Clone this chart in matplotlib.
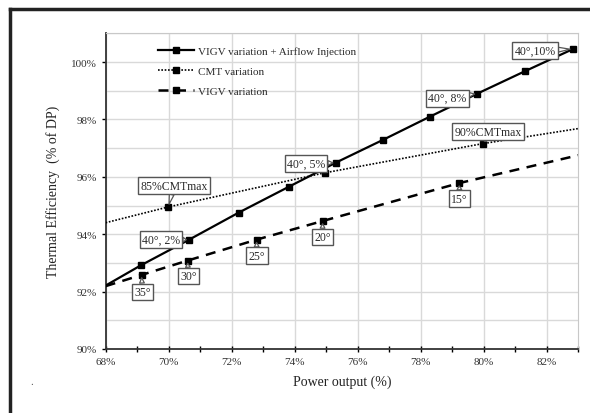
import matplotlib
matplotlib.use("Agg")
import matplotlib.pyplot as plt
from matplotlib.lines import Line2D
from matplotlib.ticker import MultipleLocator, FuncFormatter

plt.rcParams['font.family'] = ['Liberation Serif', 'DejaVu Serif']

# VIGV variation + Airflow Injection (first point is the line start at the axis edge)
inj_x = [68.0, 69.11, 70.65, 72.22, 73.81, 75.30, 76.79, 78.30, 79.80, 81.31, 82.83]
inj_y = [92.21, 92.91, 93.81, 94.75, 95.65, 96.49, 97.28, 98.10, 98.90, 99.68, 100.45]

# CMT variation (line runs edge to edge, markers only at the three points)
cmt_x = [68.0, 69.99, 74.96, 79.99, 83.0]
cmt_y = [94.40, 94.95, 96.14, 97.16, 97.68]

# VIGV variation
vigv_x = [68.0, 69.14, 70.60, 72.79, 74.89, 79.22, 83.0]
vigv_y = [92.19, 92.58, 93.08, 93.81, 94.46, 95.78, 96.75]

# callouts: text, point, box centre
labels = ["85%CMTmax", "40°, 2%", "35°", "30°", "25°", "20°", "15°",
          "40°, 5%", "40°, 8%", "40°,10%", "90%CMTmax"]
label_pts = [(69.99, 94.95), (70.65, 93.81), (69.14, 92.58), (70.60, 93.08),
             (72.79, 93.81), (74.89, 94.46), (79.22, 95.78), (75.30, 96.49),
             (79.80, 98.90), (82.83, 100.45), (79.99, 97.16)]
label_pos = [(70.17, 95.69), (69.76, 93.81), (69.17, 91.99), (70.63, 92.54),
             (72.80, 93.25), (74.88, 93.90), (79.24, 95.24), (74.36, 96.46),
             (78.84, 98.74), (81.63, 100.40), (80.14, 97.57)]

fig = plt.figure(figsize=(5.9, 4.14), dpi=100)
ax = fig.add_axes([0.179, 0.1546, 0.801, 0.7625])

ax.plot(inj_x, inj_y, color='black', lw=1.6, marker='s', ms=5,
        markevery=list(range(1, len(inj_x))), label='VIGV variation + Airflow Injection', zorder=3)
ax.plot(cmt_x, cmt_y, color='black', lw=1.2, ls=(0, (1, 1)), marker='s', ms=5,
        markevery=[1, 2, 3], label='CMT variation', zorder=3)
ax.plot(vigv_x, vigv_y, color='black', lw=1.8, ls=(0, (4, 3)), marker='s', ms=5,
        markevery=[1, 2, 3, 4, 5], label='VIGV variation', zorder=3)

for txt, pt, pos in zip(labels, label_pts, label_pos):
    ax.annotate(txt, xy=pt, xytext=pos, ha='center', va='center', fontsize=8.5,
                color='#2a2a2a', zorder=4,
                bbox=dict(boxstyle='square,pad=0.2', fc='white', ec='#555555', lw=1),
                arrowprops=dict(arrowstyle='wedge,tail_width=0.4,shrink_factor=0.5',
                                fc='white', ec='#555555', lw=0.9, shrinkA=0, shrinkB=2))

ax.set_xlim(68, 83)
ax.set_ylim(90, 101)
ax.xaxis.set_major_locator(MultipleLocator(2))
ax.xaxis.set_minor_locator(MultipleLocator(1))
ax.yaxis.set_major_locator(MultipleLocator(2))
ax.yaxis.set_minor_locator(MultipleLocator(1))
pct = FuncFormatter(lambda v, p: f"{v:.0f}%")
ax.xaxis.set_major_formatter(pct)
ax.yaxis.set_major_formatter(pct)
ax.tick_params(axis='x', which='both', direction='inout', length=5, width=1, labelsize=8, colors='black')
ax.tick_params(axis='y', which='major', direction='out', length=3, width=1, labelsize=8)
ax.tick_params(axis='y', which='minor', length=0)
for t in ax.get_xticklabels() + ax.get_yticklabels():
    t.set_color('#333333')

ax.grid(True, which='major', axis='x', color='#d9d9d9', lw=1)
ax.grid(True, which='both', axis='y', color='#d9d9d9', lw=1)
ax.set_axisbelow(True)

ax.spines['left'].set_color('#333333')
ax.spines['bottom'].set_color('#333333')
ax.spines['left'].set_linewidth(1.3)
ax.spines['bottom'].set_linewidth(1.3)
ax.spines['top'].set_color('#c8c8c8')
ax.spines['right'].set_color('#c8c8c8')

ax.set_xlabel('Power output (%)', fontsize=10, color='#222222', labelpad=6)
ax.set_ylabel('Thermal Efficiency  (% of DP)', fontsize=10, color='#222222', labelpad=8)

leg = ax.legend(loc='upper left', bbox_to_anchor=(0.09, 0.99), frameon=False, fontsize=8,
                handlelength=3.2, labelspacing=0.9, handletextpad=0.4)
for t in leg.get_texts():
    t.set_color('#2a2a2a')

# outer frame (top and left edges only) and the stray dot
fig.add_artist(Line2D([0.017, 1.0], [0.976, 0.976], color='#222222', lw=2.5))
fig.add_artist(Line2D([0.017, 0.017], [0.0, 0.976], color='#222222', lw=2.5))
fig.text(0.051, 0.07, '.', fontsize=8, color='#555555')

fig.savefig('out.png', dpi=100)
